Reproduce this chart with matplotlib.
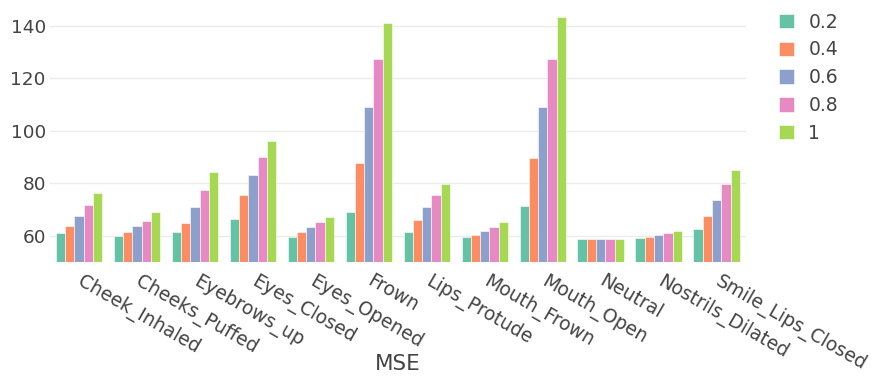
import matplotlib
matplotlib.use("Agg")
import matplotlib.pyplot as plt
import matplotlib.transforms as mtransforms
import numpy as np

plt.rcParams['font.family'] = ['DejaVu Sans']

categories = ["Cheek_Inhaled", "Cheeks_Puffed", "Eyebrows_up", "Eyes_Closed",
              "Eyes_Opened", "Frown", "Lips_Protude", "Mouth_Frown",
              "Mouth_Open", "Neutral", "Nostrils_Dilated", "Smile_Lips_Closed"]

series_labels = ["0.2", "0.4", "0.6", "0.8", "1"]

mse_02 = [60.9, 60.0, 61.3, 66.4, 59.5, 68.9, 61.5, 59.4, 71.1, 58.7, 59.1, 62.3]
mse_04 = [63.7, 61.5, 64.8, 75.5, 61.5, 87.7, 65.9, 60.3, 89.5, 58.7, 59.4, 67.5]
mse_06 = [67.5, 63.7, 70.7, 83.0, 63.3, 109.0, 70.7, 61.7, 109.0, 58.7, 60.1, 73.6]
mse_08 = [71.8, 65.7, 77.3, 89.9, 65.1, 127.4, 75.4, 63.2, 127.3, 58.6, 60.9, 79.7]
mse_10 = [76.4, 68.8, 84.4, 96.0, 66.9, 141.3, 79.8, 65.1, 143.3, 58.7, 61.9, 85.1]

series = [mse_02, mse_04, mse_06, mse_08, mse_10]
colors = ["#66c2a5", "#fc8d62", "#8da0cb", "#e78ac3", "#a6d854"]

text_color = "#444444"

fig = plt.figure(figsize=(8.75, 3.85), dpi=100)
ax = fig.add_axes([50 / 875, 1 - 261.7 / 385, 695.6 / 875, 251.5 / 385])

x = np.arange(len(categories))
group_width = 0.8
bar_w = group_width / len(series)
for i, (vals, col, lab) in enumerate(zip(series, colors, series_labels)):
    offs = -group_width / 2 + bar_w * (i + 0.5)
    ax.bar(x + offs, vals, width=bar_w, color=col, label=lab,
           edgecolor="white", linewidth=0.4, zorder=2)

ax.set_xlim(-0.5, len(categories) - 0.5)
ax.set_ylim(50, 146)
ax.set_yticks([60, 80, 100, 120, 140])
ax.yaxis.grid(True, color="#ebebeb", linewidth=1.0, zorder=0)
ax.set_axisbelow(True)
for sp in ax.spines.values():
    sp.set_visible(False)

ax.tick_params(axis="y", length=0, pad=3, labelsize=13.3, labelcolor=text_color)
ax.tick_params(axis="x", length=0, pad=7, labelsize=13.5, labelcolor=text_color)
ax.set_xticks(x)
ax.set_xticklabels(categories, rotation=-30, ha="left", va="top",
                   rotation_mode="anchor")
# nudge the slanted category labels a little to the right
shift = mtransforms.ScaledTranslation(5 / 100, 0, fig.dpi_scale_trans)
for lbl in ax.get_xticklabels():
    lbl.set_transform(lbl.get_transform() + shift)

fig.text(398 / 875, 1 - 364 / 385, "MSE", ha="center", va="center",
         fontsize=15.5, color=text_color)

leg = fig.legend(loc="upper left", bbox_to_anchor=(771 / 875, 1 - 5 / 385),
                 frameon=False, fontsize=13.5, handlelength=0.8,
                 handleheight=0.8, handletextpad=0.8, labelspacing=0.47,
                 borderaxespad=0)
for t in leg.get_texts():
    t.set_color(text_color)

fig.savefig("out.png", dpi=100, facecolor="white")
